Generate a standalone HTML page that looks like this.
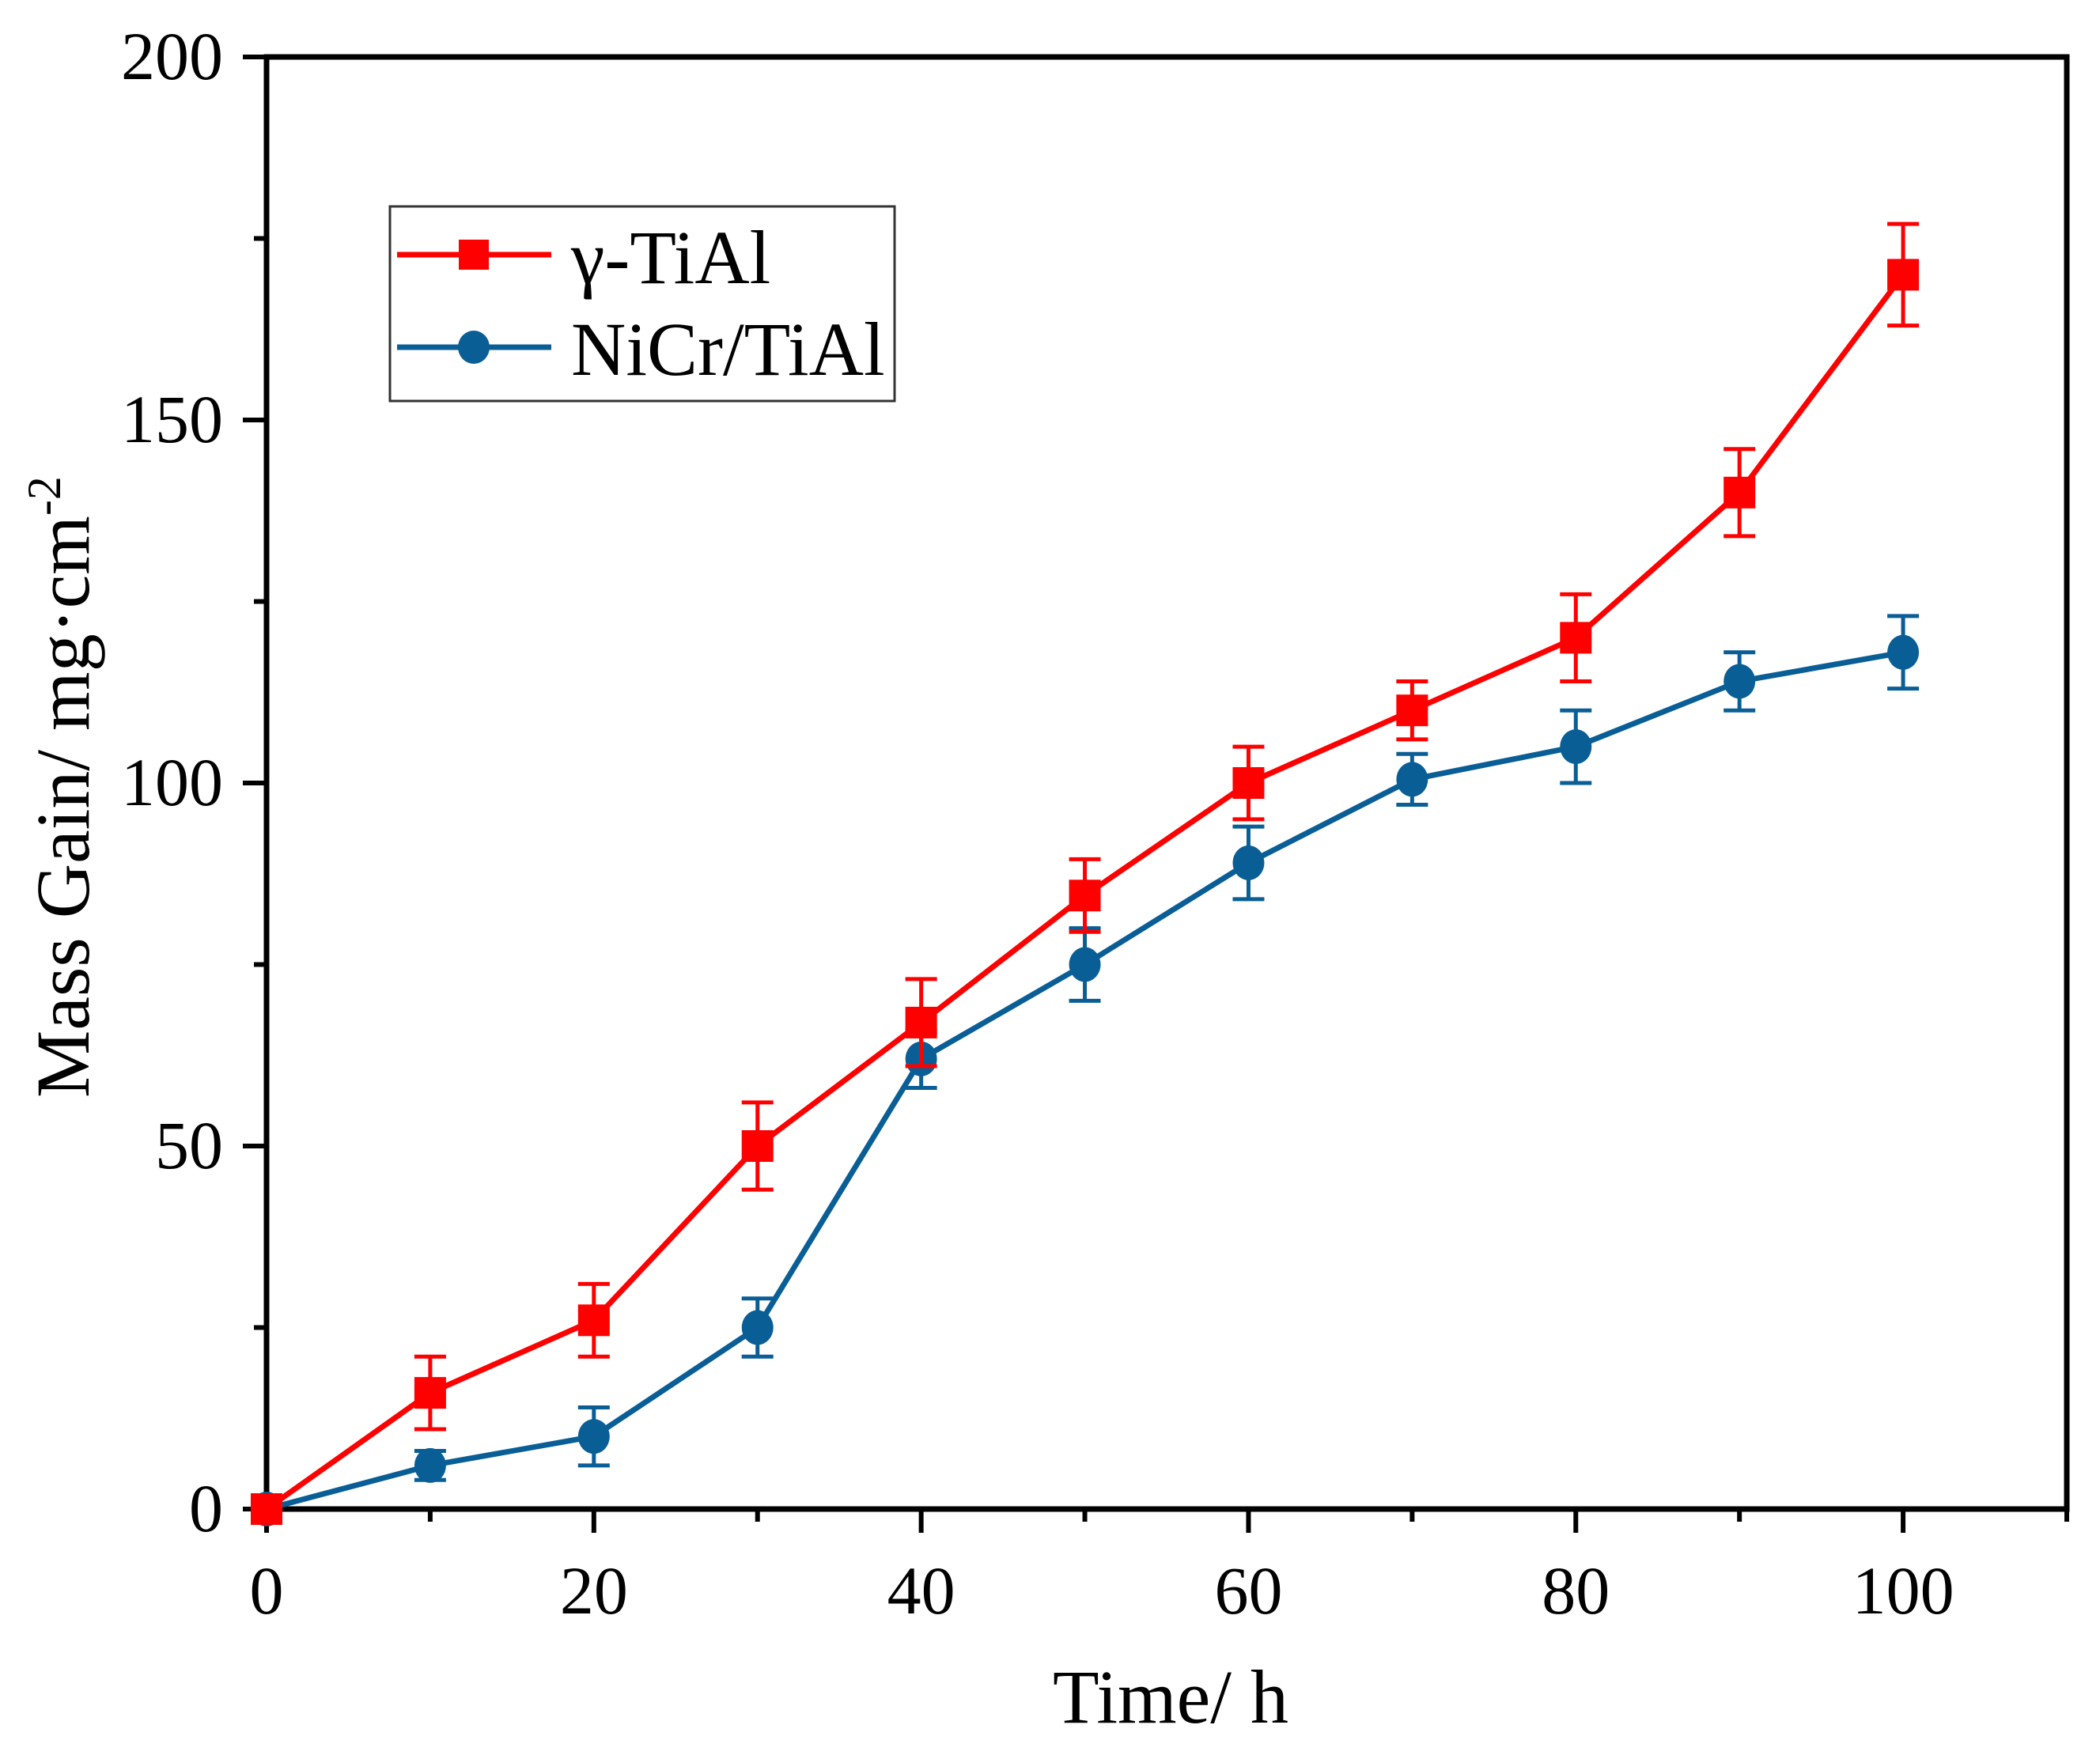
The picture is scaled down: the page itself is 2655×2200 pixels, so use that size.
<!DOCTYPE html>
<html><head><meta charset="utf-8"><style>
html,body{margin:0;padding:0;background:#fff;}
svg{display:block;font-family:"Liberation Serif",serif;}
</style></head><body>
<svg id="chart" width="2655" height="2200" viewBox="0 0 2655 2200" xmlns="http://www.w3.org/2000/svg">
</svg>
<script>
const times = [0,10,20,30,40,50,60,70,80,90,100];
const tialValues = [0,16,26,50,67,84.5,100,110,120,140,170];
const tialErrors = [0,5,5,6,6,5,5,4,6,6,7];
const nicrValues = [0,6,10,25,62,75,89,100.5,105,114,118];
const nicrErrors = [1,2,4,4,4,5,5,3.5,5,4,5];
const xTickLabels = [0,20,40,60,80,100];
const yTickLabels = [0,50,100,150,200];

const L=337,R=2613,T=72,B=1908;
const xMax=110,yMax=200;
function xs(v){return L+(R-L)*v/xMax;}
function ys(v){return B-(B-T)*v/yMax;}
const svg=document.getElementById('chart');
const NS='http://www.w3.org/2000/svg';
function mk(tag,attrs,parent){const e=document.createElementNS(NS,tag);for(const k in attrs)e.setAttribute(k,attrs[k]);(parent||svg).appendChild(e);return e;}

const frame=mk('rect',{x:L,y:T,width:R-L,height:B-T,fill:'none',stroke:'#000','stroke-width':7});



for(let v=0;v<=xMax;v+=10){
  const major=v%20===0;
  const t=mk('line',{x1:xs(v),x2:xs(v),y1:B,y2:B+(major?30:16),stroke:'#000','stroke-width':6});
  
  
}
xTickLabels.forEach(v=>{
  const t=mk('text',{x:xs(v),y:2040,'font-size':86,'text-anchor':'middle'});
  t.textContent=v;
  
  
});
for(let v=0;v<=yMax;v+=25){
  const major=v%50===0;
  const t=mk('line',{x1:L,x2:L-(major?30:16),y1:ys(v),y2:ys(v),stroke:'#000','stroke-width':6});
  
  
}
yTickLabels.forEach(v=>{
  const t=mk('text',{x:282,y:ys(v)+28,'font-size':86,'text-anchor':'end'});
  t.textContent=v;
  
  
});
const xt=mk('text',{x:1480,y:2178,'font-size':96,'text-anchor':'middle'});
xt.textContent='Time/ h';


const yt=mk('text',{x:0,y:0,'font-size':96,'text-anchor':'middle',transform:'translate(112,995) rotate(-90)'});
yt.innerHTML='Mass Gain/ mg·cm<tspan dy="-36" font-size="60">-2</tspan>';



function series(vals,errs,color,shape,name){
  const g=mk('g',{});
  
  
  const pts=times.map((t,i)=>xs(t)+','+ys(vals[i])).join(' ');
  const pl=mk('polyline',{points:pts,fill:'none',stroke:color,'stroke-width':7,'stroke-linejoin':'round'},g);
  
  
  times.forEach((t,i)=>{
    const x=xs(t),y1=ys(vals[i]+errs[i]),y2=ys(vals[i]-errs[i]);
    const e=mk('path',{d:`M${x},${y1}V${y2}M${x-20},${y1}H${x+20}M${x-20},${y2}H${x+20}`,stroke:color,'stroke-width':5,fill:'none'},g);
    
    
    let m;
    if(shape==='square') m=mk('rect',{x:x-20,y:ys(vals[i])-20,width:40,height:40,fill:color},g);
    else m=mk('ellipse',{cx:x,cy:ys(vals[i]),rx:20,ry:22,fill:color},g);
    
    
  });
}
series(nicrValues,nicrErrors,'#0a5e96','circle','nicr-tial');
series(tialValues,tialErrors,'#ff0000','square','gamma-tial');

const lg=mk('g',{});


const lb=mk('rect',{x:493,y:261,width:638,height:246,fill:'#fff',stroke:'#333','stroke-width':3},lg);


[['γ-TiAl','#ff0000','square',322,358],['NiCr/TiAl','#0a5e96','circle',439,474]].forEach(([lab,c,s,y,by])=>{
  const e=mk('g',{},lg);
  
  
  mk('line',{x1:502,x2:697,y1:y,y2:y,stroke:c,'stroke-width':7},e);
  if(s==='square') mk('rect',{x:580,y:y-19,width:38,height:38,fill:c},e);
  else mk('ellipse',{cx:599,cy:y,rx:20,ry:21,fill:c},e);
  const t=mk('text',{x:722,y:by,'font-size':96},e);
  t.textContent=lab;
});
</script>
</body></html>
